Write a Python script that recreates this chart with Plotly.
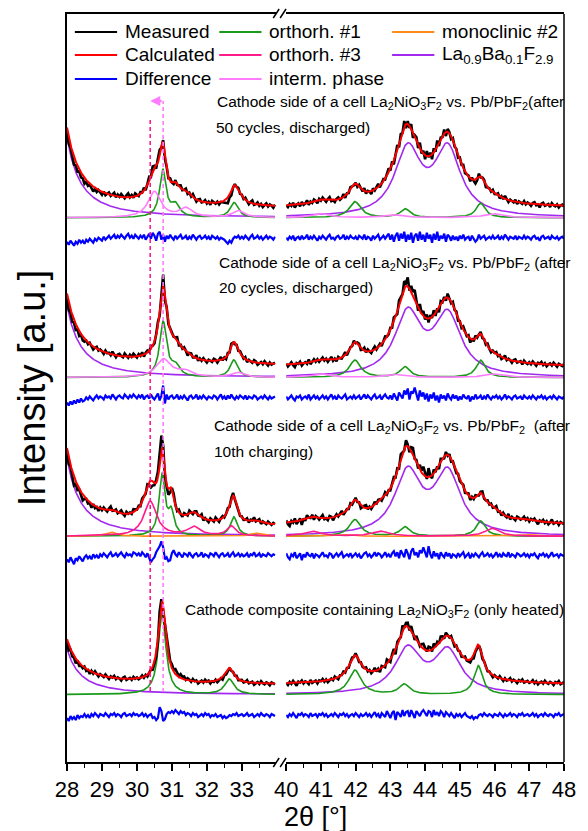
import numpy as np
import plotly.graph_objects as go

# ---------------------------------------------------------------------------
# Stacked XRD patterns (Rietveld fits) of La2NiO3F2 cathode material.
# Intensities are in arbitrary units; each pattern is shifted vertically.
# ---------------------------------------------------------------------------

# vertical offsets of the four patterns (top -> bottom)
base_level = [545, 385, 226, 67.5]     # zero line of the phase contributions
diff_level = [525, 365, 207, 47]       # zero line of the difference curves
bg_left = [10, 12, 10, 10]             # background, 28-34 deg
bg_right = [10, 10.5, 11, 10]          # background, 40-48 deg

# Peak lists per phase: (2theta [deg], height, half width at half maximum)
laf_1 = [(27.3, 707, 0.25), (43.5, 66, 0.45), (44.65, 66, 0.45)]
laf_2 = [(27.3, 634, 0.25), (43.5, 62, 0.45), (44.65, 60, 0.46)]
laf_3 = [(27.3, 687, 0.25), (43.5, 62, 0.45), (44.65, 61, 0.45)]
laf_4 = [(27.3, 400, 0.25), (43.5, 44, 0.45), (44.65, 42, 0.45)]

ortho1_1 = [(30.74, 47, 0.11), (31.1, 12, 0.15), (32.78, 15, 0.14),
            (41.98, 16, 0.2), (43.43, 8.7, 0.17), (45.6, 14.4, 0.16)]
ortho1_2 = [(30.75, 55, 0.12), (31.1, 10, 0.15), (32.77, 17.4, 0.13),
            (41.98, 17.3, 0.2), (43.42, 10.6, 0.17), (45.6, 17.3, 0.16)]
ortho1_3 = [(30.72, 61, 0.1), (30.98, 22, 0.1), (32.77, 19.3, 0.12),
            (41.98, 16.7, 0.2), (43.42, 9.3, 0.17), (45.6, 15.3, 0.16)]
ortho1_4 = [(30.72, 81, 0.13), (32.64, 15.3, 0.16),
            (41.98, 24.3, 0.22), (43.4, 10, 0.18), (45.53, 29, 0.15)]

interm_1 = [(30.5, 26, 0.22), (31.4, 9, 0.22), (32.9, 7, 0.2),
            (41.0, 4, 0.3), (43.05, 3, 0.3), (45.95, 4, 0.3)]
interm_2 = [(30.76, 18, 0.25), (31.35, 6, 0.25), (32.87, 5, 0.2),
            (41.0, 3.5, 0.3), (43.1, 3, 0.3), (45.95, 3.5, 0.3)]

ortho3_3 = [(30.38, 35, 0.22), (31.63, 9, 0.22), (32.7, 10, 0.15),
            (40.75, 5, 0.3), (42.72, 5, 0.3), (45.93, 8, 0.25)]
mono2_3 = [(29.28, 4, 0.2), (33.4, 3, 0.2), (41.6, 2, 0.3), (46.9, 2, 0.3)]

# Difference (measured - calculated), 0.05 deg steps:
# left panel 28.00 ... 33.95 (120 points), right panel 40.00 ... 48.00 (161 points)
diff_1_left = [
    -4, -7, -3, -6, -8, -4, -6, -2, -5, -3, -6, -2, -4, -1, -3, -5, -1, -3, 0, -2,
    -3, 1, -2, 0, 2, -1, 1, 3, -1, 2, 0, 3, 1, -1, 2, 4, 0, 2, -1, 3,
    1, -1, 2, 0, 3, -2, 1, 4, -1, 5, 2, -3, 4, 6, -2, 3, -4, 2, -1, 3,
    0, -2, 2, -1, 1, 3, -1, 0, 2, -2, 1, -1, 3, 0, -2, 1, 2, -1, 0, 2,
    -1, 1, -2, 2, 0, -1, 1, -2, 0, -1, -2, -4, -6, -3, -5, -1, 1, 0, 2, -1,
    1, -1, 2, 0, -2, 1, 3, -1, 0, 2, -1, 1, -2, 0, 2, -1, 1, 0, -2, 1]
diff_1_right = [
    0, -2, 1, -1, 2, -3, 0, 1, -2, 2, -1, 0, 3, -2, 1, -1, 2, 0, -3, 1,
    -1, 2, 0, -2, 1, 3, -1, 0, -2, 1, 2, -1, 0, 3, -2, 1, -1, 2, 0, -1,
    1, -2, 2, 0, -1, 3, -2, 1, 0, -3, 2, -1, 1, 3, -2, 0, 2, -1, 1, 4,
    -2, 3, -4, 2, 5, -3, 4, -1, 6, -4, 3, -2, 5, -5, 2, 4, -3, 6, -2, 3,
    -4, 5, -1, 3, -5, 4, -2, 6, -3, 2, -1, 4, -4, 3, 1, -3, 2, -2, 1, -3,
    2, -1, 3, -2, 0, 1, -3, 2, -1, -4, -2, 3, -1, 1, 2, -2, 0, 1, -1, 2,
    -1, 0, 2, -2, 1, -1, 3, 0, -2, 1, 0, -1, 2, -2, 1, 0, -1, 2, -1, 1,
    0, -2, 1, 2, -1, 0, -3, 1, 2, -1, 0, 1, -2, 2, 0, -1, 1, -2, 0, 1, -1]
diff_2_left = [
    -5, -8, -4, -7, -3, -6, -2, -5, -1, -4, -3, 0, -2, 1, -1, -3, 0, 2, -1, 1,
    0, -2, 2, 0, 1, -1, 3, 0, -2, 1, 2, 0, -1, 3, 1, -1, 2, 0, 3, 1,
    -1, 2, 0, 3, -2, 1, 2, -1, 3, 0, -2, 1, 4, -3, 2, 12, -6, 3, -2, 1,
    2, -1, 0, 3, -2, 1, -1, 2, 0, -3, 1, 2, -1, 0, 3, -2, 1, -1, 2, 0,
    -2, 1, 0, -1, 2, 1, -2, 0, 3, -1, 1, -2, 2, -1, 3, 0, -2, 1, -1, 2,
    0, -1, 2, -2, 1, 0, -1, 2, 1, -2, 0, 1, -1, 2, 0, -2, 1, -1, 0, 1]
diff_2_right = [
    1, -2, 0, 2, -1, -3, 1, 0, 2, -2, 0, 1, -1, 3, -2, 0, 2, -1, 1, -2,
    0, 2, -1, 1, -2, 0, 3, -1, 1, -2, 2, 0, -1, 1, 3, -2, 0, 1, -1, 2,
    -1, 1, 2, -2, 0, 3, -1, 2, 0, -2, 1, 3, -1, 0, 2, -2, 1, 3, 0, -1,
    2, -2, 4, 1, -3, 5, 2, -1, 7, 3, 9, -2, 6, 4, 10, 2, -3, 7, 1, 5,
    -2, 4, -4, 3, -1, 5, -3, 2, -5, 3, -1, 2, -3, 4, 0, -2, 3, -1, 2, -3,
    1, -2, 3, 0, -1, 2, -4, 1, -2, 3, -1, 0, 2, -2, 1, -1, 3, 0, -2, 1,
    0, 2, -1, 1, -2, 0, 3, -1, 1, 0, -2, 1, 2, -1, 0, 1, -2, 2, 0, -1,
    1, -1, 2, 0, -2, 1, 0, 2, -1, 1, -2, 0, 1, -1, 2, 0, -2, 1, 0, -1, 1]
diff_3_left = [
    -4, -7, -2, -6, -9, -3, -5, -1, -4, -6, -2, 0, -3, -1, -4, 1, -2, 0, -3, 1,
    -1, 2, 0, -2, 1, 3, -1, 0, 2, -1, 1, 3, 0, -2, 2, 0, 1, -1, 3, 2,
    0, 2, -1, 3, 1, -2, 2, -3, -7, -4, -2, 3, 6, 9, 14, 8, -4, -2, -6, -5,
    2, 5, 1, -1, 3, 0, -2, 2, 1, -1, 3, 0, -2, 1, 2, -1, 0, 3, -2, 1,
    0, -2, 2, 1, -1, 3, 0, -2, 1, 2, -1, 0, 2, -2, 1, 3, -1, 0, 2, -1,
    1, -1, 0, 2, -2, 1, 0, 3, -1, 0, 2, -2, 1, 0, -1, 2, 0, -1, 1, 0]
diff_3_right = [
    2, -2, -4, 1, -1, 3, -3, 0, 2, -5, 1, -2, 3, 0, -1, 2, -3, 1, 0, -2,
    1, 3, -1, 0, -2, 2, 1, -3, 0, 2, -1, 1, 3, -2, 0, 1, -1, 2, -2, 0,
    2, -1, 1, -3, 0, 2, 3, -1, 1, -2, 0, 3, -1, 2, 1, -2, 0, 3, -1, 1,
    -2, 2, 4, -1, 3, -3, 5, 1, -2, 6, 2, -4, 4, 7, 0, 3, -2, 5, 2, 8,
    3, -2, 9, 1, -3, 4, -1, 2, -4, 3, 0, -2, 3, -1, 2, -3, 1, 0, -2, 2,
    -1, 1, 3, -2, 0, 2, -3, 1, -1, 2, 0, -2, 1, 3, -1, 0, 2, -1, 1, -2,
    0, 3, -1, 1, -2, 2, 0, -1, 3, -2, 1, 0, -2, 2, 1, -1, 0, 2, -1, 1,
    -2, 1, 0, 2, -1, -3, 1, 0, 2, -1, 1, -2, 0, 3, -1, 0, 1, -2, 1, 0, -1]
diff_4_left = [
    -3, -6, -1, -4, -2, -5, 0, -3, -1, -2, 1, -2, 0, -3, 1, -1, 2, 0, -2, 1,
    0, -1, 2, 0, -2, 1, 0, 2, -1, 1, 0, -2, 1, 2, -1, 0, 1, -1, 2, 0,
    1, -1, 0, 2, -1, 1, -2, 0, 1, -3, -2, -5, -3, 8, 4, -6, -4, 1, 3, 2,
    4, 2, 5, 3, 1, 4, 2, 3, 0, 2, 1, -1, 2, 0, 1, -2, 0, 1, -1, 2,
    0, 1, -2, 0, -1, 1, -2, -1, 0, -3, -1, -3, -2, 0, -1, 1, 0, 2, -1, 0,
    1, -1, 0, 2, -1, 0, 1, -2, 0, 1, -1, 2, 0, -1, 1, 0, -2, 1, 0, -1]
diff_4_right = [
    0, -2, 1, -1, 2, 0, -3, 1, 0, 2, -1, 1, 0, -2, 2, -1, 0, 1, -2, 1,
    0, 2, -1, 1, -2, 0, 1, -1, 2, 0, -2, 1, 0, 2, -1, 1, -2, 0, 1, -1,
    2, 0, -2, 1, -1, 0, 2, -1, 1, -2, 0, 3, -1, 1, -3, 2, 0, -2, 4, 1,
    -3, 2, 4, -5, 3, 1, -2, 5, -1, 3, 4, -2, 5, 1, -3, 4, 2, -1, 3, 5,
    2, -1, 4, 3, -2, 5, 0, 3, -1, 4, 2, -2, 3, 1, -1, 2, 0, -3, 1, -1,
    1, -2, 0, 2, -1, -2, -3, -1, -4, -2, -3, 0, 1, -1, 2, 0, -1, 1, 0, -2,
    1, 0, -1, 2, 0, -2, 1, -1, 0, 2, -1, 1, 0, -2, 1, 0, 2, -1, 0, 1,
    -1, 0, 2, -1, 1, -2, 0, 1, -1, 2, 0, -1, 1, 0, -2, 1, 0, 2, -1, 0, 1]

# marked reflection positions (dashed guides) and the shift arrow
guide_pos = [30.38, 30.75]
guide_top = [644, 662]
guide_bottom = [71, 70]

# pattern captions: (line 1, line 2)
captions = [
    ("Cathode side of a cell La<sub>2</sub>NiO<sub>3</sub>F<sub>2</sub> vs. Pb/PbF<sub>2</sub>(after",
     "50 cycles, discharged)"),
    ("Cathode side of a cell La<sub>2</sub>NiO<sub>3</sub>F<sub>2</sub> vs. Pb/PbF<sub>2</sub> (after",
     "20 cycles, discharged)"),
    ("Cathode side of a cell La<sub>2</sub>NiO<sub>3</sub>F<sub>2</sub> vs. Pb/PbF<sub>2</sub>  (after",
     "10th charging)"),
    ("Cathode composite containing La<sub>2</sub>NiO<sub>3</sub>F<sub>2</sub> (only heated)", ""),
]

# ---------------------------------------------------------------------------
C_MEAS, C_CALC, C_DIFF = "#000000", "#ff0000", "#0000ff"
C_O1, C_O3, C_INT, C_MONO, C_LAF = "#1a9a1a", "#ff1a8c", "#ff7cff", "#ff8c1a", "#a328f0"

legend_items = [
    ("Measured", C_MEAS), ("Calculated", C_CALC), ("Difference", C_DIFF),
    ("orthorh. #1", C_O1), ("orthorh. #3", C_O3), ("interm. phase", C_INT),
    ("monoclinic #2", C_MONO), ("La<sub>0.9</sub>Ba<sub>0.1</sub>F<sub>2.9</sub>", C_LAF),
]

FONT = "Arial, Liberation Sans, sans-serif"
W, H = 588, 831
ML, MR, MT, MB = 67, 15, 13, 69
PW, PH = W - ML - MR, H - MT - MB


def px(x):
    return (x - ML) / PW


def py(y):
    return (H - MB - y) / PH


def profile(x, peaks):
    out = np.zeros_like(x, dtype=float)
    for c, h, w in peaks:
        out += h / (1.0 + ((x - c) / w) ** 2)
    return out


x_fine = {"x": np.linspace(28.0, 33.95, 596), "x2": np.linspace(40.0, 48.0, 801)}
x_step = {"x": 28.0 + 0.05 * np.arange(120), "x2": 40.0 + 0.05 * np.arange(161)}

patterns = [
    dict(phases=[(laf_1, C_LAF), (ortho1_1, C_O1), (interm_1, C_INT)],
         diff={"x": diff_1_left, "x2": diff_1_right}),
    dict(phases=[(laf_2, C_LAF), (ortho1_2, C_O1), (interm_2, C_INT)],
         diff={"x": diff_2_left, "x2": diff_2_right}),
    dict(phases=[(laf_3, C_LAF), (ortho1_3, C_O1), (mono2_3, C_MONO), (ortho3_3, C_O3)],
         diff={"x": diff_3_left, "x2": diff_3_right}),
    dict(phases=[(laf_4, C_LAF), (ortho1_4, C_O1)],
         diff={"x": diff_4_left, "x2": diff_4_right}),
]

fig = go.Figure()

for i, pat in enumerate(patterns):
    base = base_level[i]
    for ax, bg in (("x", bg_left[i]), ("x2", bg_right[i])):
        xf, xs = x_fine[ax], x_step[ax]
        calc_f = np.full_like(xf, base + bg)
        calc_s = np.full_like(xs, base + bg)
        for peaks, col in pat["phases"]:
            comp = profile(xf, peaks)
            calc_f += comp
            calc_s += profile(xs, peaks)
            fig.add_trace(go.Scatter(x=xf, y=base + comp, mode="lines", xaxis=ax, yaxis="y",
                                     line=dict(color=col, width=1.6), showlegend=False,
                                     hoverinfo="skip"))
        d = np.array(pat["diff"][ax], dtype=float)
        fig.add_trace(go.Scatter(x=xs, y=calc_s + d, mode="lines", xaxis=ax, yaxis="y",
                                 line=dict(color=C_MEAS, width=2.6), showlegend=False))
        fig.add_trace(go.Scatter(x=xf, y=calc_f, mode="lines", xaxis=ax, yaxis="y",
                                 line=dict(color=C_CALC, width=2), showlegend=False))
        fig.add_trace(go.Scatter(x=xs, y=diff_level[i] + d, mode="lines", xaxis=ax, yaxis="y",
                                 line=dict(color=C_DIFF, width=2.2), showlegend=False))

# dashed guides at the two reflection positions
for pos, top, bot, col in zip(guide_pos, guide_top, guide_bottom, [C_O3, C_INT]):
    fig.add_trace(go.Scatter(x=[pos, pos], y=[bot, top], mode="lines", xaxis="x", yaxis="y",
                             line=dict(color=col, width=1.6, dash="4px,3px"), showlegend=False))

annotations = []
# shift arrow
annotations.append(dict(x=guide_pos[0], y=guide_top[1], ax=guide_pos[1], ay=guide_top[1],
                        xref="x", yref="y", axref="x", ayref="y", text="", showarrow=True,
                        arrowhead=2, arrowsize=0.8, arrowwidth=2.5, arrowcolor=C_INT))

# captions
cap_pos = [((218, 102), (217, 127)), ((220, 263), (220, 287)),
           ((215, 426), (215, 451)), ((185, 610), None)]
for (l1, l2), (p1, p2) in zip(captions, cap_pos):
    for txt, p in ((l1, p1), (l2, p2)):
        if p is None or not txt:
            continue
        annotations.append(dict(x=px(p[0]), y=py(p[1]), xref="paper", yref="paper", text=txt,
                                showarrow=False, xanchor="left", yanchor="middle",
                                font=dict(family=FONT, size=15.5, color="black")))

# legend (three columns)
shapes = []
col_x = [75, 222, 398]
row_y = [31, 54, 78]
for k, (label, col) in enumerate(legend_items):
    cx, ry = col_x[k // 3], row_y[k % 3]
    shapes.append(dict(type="line", xref="paper", yref="paper", x0=px(cx), x1=px(cx + 43),
                       y0=py(ry), y1=py(ry), line=dict(color=col, width=2)))
    annotations.append(dict(x=px(cx + 49), y=py(ry), xref="paper", yref="paper", text=label,
                            showarrow=False, xanchor="left", yanchor="middle",
                            font=dict(family=FONT, size=19, color="black")))

# axis titles
annotations.append(dict(x=0.5, y=py(817), xref="paper", yref="paper", text="2\u03b8 [\u00b0]",
                        showarrow=False, xanchor="center", yanchor="middle",
                        font=dict(family=FONT, size=27, color="black")))
annotations.append(dict(x=px(31), y=py(387), xref="paper", yref="paper", text="Intensity [a.u.]",
                        showarrow=False, textangle=-90, xanchor="center", yanchor="middle",
                        font=dict(family=FONT, size=38, color="black")))

# right frame line and axis-break marks
shapes.append(dict(type="line", xref="paper", yref="paper", x0=1, x1=1, y0=0, y1=1,
                   line=dict(color="black", width=1.5)))
for yb in (17, 767):
    for xs0 in (277, 284):
        shapes.append(dict(type="line", xref="paper", yref="paper",
                           x0=px(xs0), x1=px(xs0 + 6), y0=py(yb), y1=py(yb - 9),
                           line=dict(color="black", width=1.5)))

axis_common = dict(showline=True, linewidth=1.5, linecolor="black", mirror=True,
                   ticks="outside", ticklen=7, tickwidth=1.5, tickcolor="black", dtick=1,
                   showgrid=False, zeroline=False,
                   tickfont=dict(family=FONT, size=22, color="black"),
                   minor=dict(ticks="outside", ticklen=4, tickwidth=1.2, dtick=0.5,
                              tickcolor="black", showgrid=False))

fig.update_layout(
    width=W, height=H,
    margin=dict(l=ML, r=MR, t=MT, b=MB),
    paper_bgcolor="white", plot_bgcolor="white",
    xaxis=dict(domain=[0, 0.42], range=[28, 33.97], tick0=28, anchor="y", **axis_common),
    xaxis2=dict(domain=[0.441, 1], range=[40, 48], tick0=40, anchor="y", **axis_common),
    yaxis=dict(range=[0, PH], showline=True, linewidth=1.5, linecolor="black",
               showticklabels=False, ticks="", showgrid=False, zeroline=False),
    annotations=annotations, shapes=shapes,
    showlegend=False,
)

fig.write_html("out.html")
